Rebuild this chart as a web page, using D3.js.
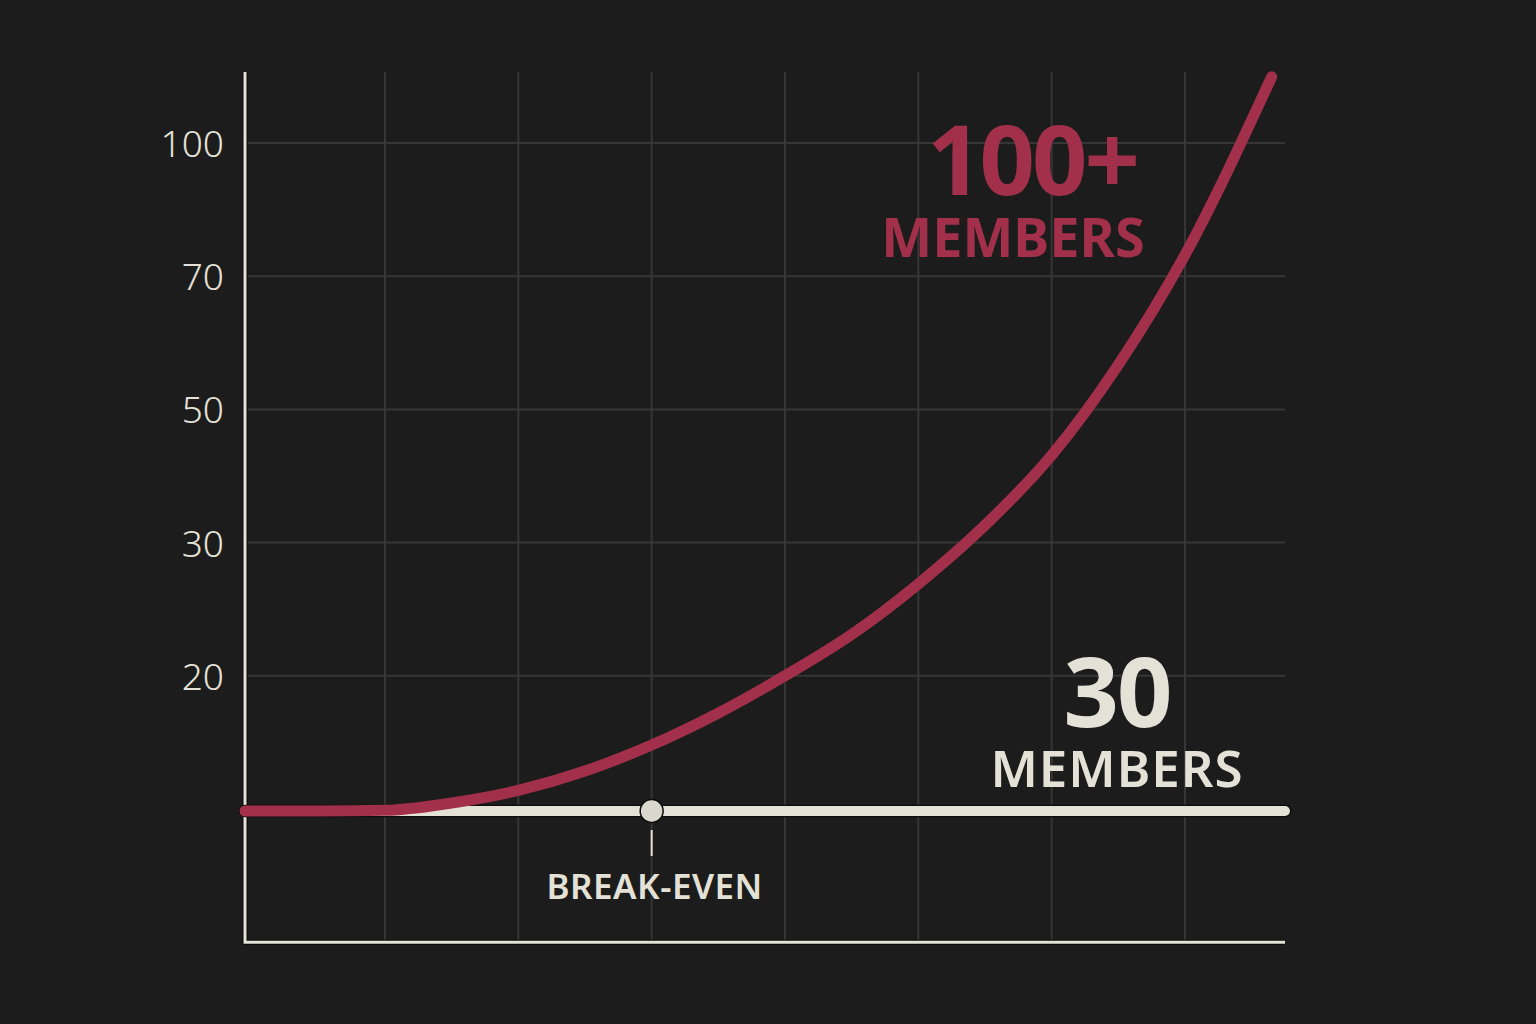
<!DOCTYPE html>
<html>
<head>
<meta charset="utf-8">
<script src="https://cdn.jsdelivr.net/npm/d3@7"></script>
<style>
  html, body { margin: 0; padding: 0; background: #1c1c1c; }
  svg { display: block; }
</style>
</head>
<body>
<script>
// --- data ---
var yTicks = [20, 30, 50, 70, 100];
var yStops = [0, 10, 20, 30, 50, 70, 100];   // axis is evenly spaced between these stops
var yTop = 116;
var xGrid = [1, 2, 3, 4, 5, 6, 7];
var xStart = -0.05, xEnd = 7.75;

var flatLevel = 9.85;                        // "30 MEMBERS" line
var growthX = [-0.05, 0.5, 1, 1.25, 1.5, 2, 2.5, 3, 3.5, 4, 4.5, 5, 5.5, 6, 6.5, 7, 7.65];
var growthY = [9.85, 9.85, 9.9, 10.1, 10.45, 11.4, 12.85, 14.8, 17.2, 20.0, 23.1, 26.9, 32.6, 43.1, 56.7, 74.8, 114.9];
var breakEvenX = 3;

var width = 1536,
    height = 1024,
    cream = "#e4e1d6",
    red = "#a3304a",
    grid = "#363636";

var svg = d3.select("body").append("svg")
    .attr("width", width)
    .attr("height", height);

svg.append("rect")
   .attr("width", width)
   .attr("height", height)
   .attr("fill", "#1c1c1c");

var step = 133.2, yBottom = 942.2;
var y = d3.scaleLinear()
    .domain(yStops)
    .range(yStops.map(function(d, i) { return yBottom - i * step; }));
var x = d3.scaleLinear()
    .domain([xStart, xEnd])
    .range([245, 1285]);

// gridlines
svg.append("g").selectAll("line")
   .data(yTicks)
   .enter().append("line")
   .attr("x1", x(xStart)).attr("x2", x(xEnd))
   .attr("y1", function(d) { return y(d); })
   .attr("y2", function(d) { return y(d); })
   .attr("stroke", grid)
   .attr("stroke-width", 2);

svg.append("g").selectAll("line")
   .data(xGrid)
   .enter().append("line")
   .attr("x1", function(d) { return x(d); })
   .attr("x2", function(d) { return x(d); })
   .attr("y1", y(yTop)).attr("y2", y(0))
   .attr("stroke", grid)
   .attr("stroke-width", 2);

// tick labels
svg.append("g").selectAll("text")
   .data(yTicks)
   .enter().append("text")
   .attr("x", 224)
   .attr("y", function(d) { return y(d) + 14; })
   .attr("text-anchor", "end")
   .attr("fill", cream)
   .style("font-family", "'Noto Sans', 'Open Sans', sans-serif")
   .style("font-size", "37px")
   .style("font-weight", 300)
   .text(function(d) { return d; });

// axes
var axisPath = "M" + x(xStart) + "," + y(yTop) + "V" + y(0) + "H" + x(xEnd);
svg.append("path")
   .attr("d", axisPath)
   .attr("fill", "none")
   .attr("stroke", "#0c0c0c")
   .attr("stroke-width", 5.5);
svg.append("path")
   .attr("d", axisPath)
   .attr("fill", "none")
   .attr("stroke", cream)
   .attr("stroke-width", 3);

// flat line
var line = d3.line()
    .x(function(d) { return x(d[0]); })
    .y(function(d) { return y(d[1]); });

var flat = [[xStart, flatLevel], [xEnd, flatLevel]];
svg.append("path")
   .attr("d", line(flat))
   .attr("fill", "none")
   .attr("stroke", "#0c0c0c")
   .attr("stroke-width", 12.5)
   .attr("stroke-linecap", "round");
svg.append("path")
   .attr("d", line(flat))
   .attr("fill", "none")
   .attr("stroke", cream)
   .attr("stroke-width", 10)
   .attr("stroke-linecap", "round");

// growth curve
var curve = d3.line()
    .x(function(d) { return x(d[0]); })
    .y(function(d) { return y(d[1]); })
    .curve(d3.curveMonotoneX);

svg.append("path")
   .attr("d", curve(d3.zip(growthX, growthY)))
   .attr("fill", "none")
   .attr("stroke", red)
   .attr("stroke-width", 11)
   .attr("stroke-linecap", "round");

// break-even marker
svg.append("circle")
   .attr("cx", x(breakEvenX))
   .attr("cy", y(flatLevel))
   .attr("r", 11.5)
   .attr("fill", "#d9d7ce")
   .attr("stroke", "#0c0c0c")
   .attr("stroke-width", 1.5);

svg.append("line")
   .attr("x1", x(breakEvenX)).attr("x2", x(breakEvenX))
   .attr("y1", y(flatLevel) + 19).attr("y2", y(flatLevel) + 45)
   .attr("stroke", cream)
   .attr("stroke-width", 2);

svg.append("text")
   .attr("x", x(breakEvenX) + 3)
   .attr("y", 899)
   .attr("text-anchor", "middle")
   .attr("fill", cream)
   .style("font-family", "'Noto Sans', 'Open Sans', sans-serif")
   .style("font-size", "35px")
   .style("font-weight", 600)
   .style("letter-spacing", "0.5px")
   .text("BREAK-EVEN");

// labels
function label(txt, cx, baseline, size, weight, color, spacing) {
    svg.append("text")
       .attr("x", cx)
       .attr("y", baseline)
       .attr("text-anchor", "middle")
       .attr("fill", color)
       .style("font-family", "'Noto Sans', 'Open Sans', sans-serif")
       .style("font-size", size + "px")
       .style("font-weight", weight)
       .style("letter-spacing", spacing + "px")
       .text(txt);
}

label("100+", 1032, 195, 97, 700, red, -3);
label("MEMBERS", 1013, 257, 54, 700, red, 0);
label("30", 1117, 727, 97, 700, cream, -2);
label("MEMBERS", 1117, 787, 51, 600, cream, 1);
</script>
</body>
</html>
